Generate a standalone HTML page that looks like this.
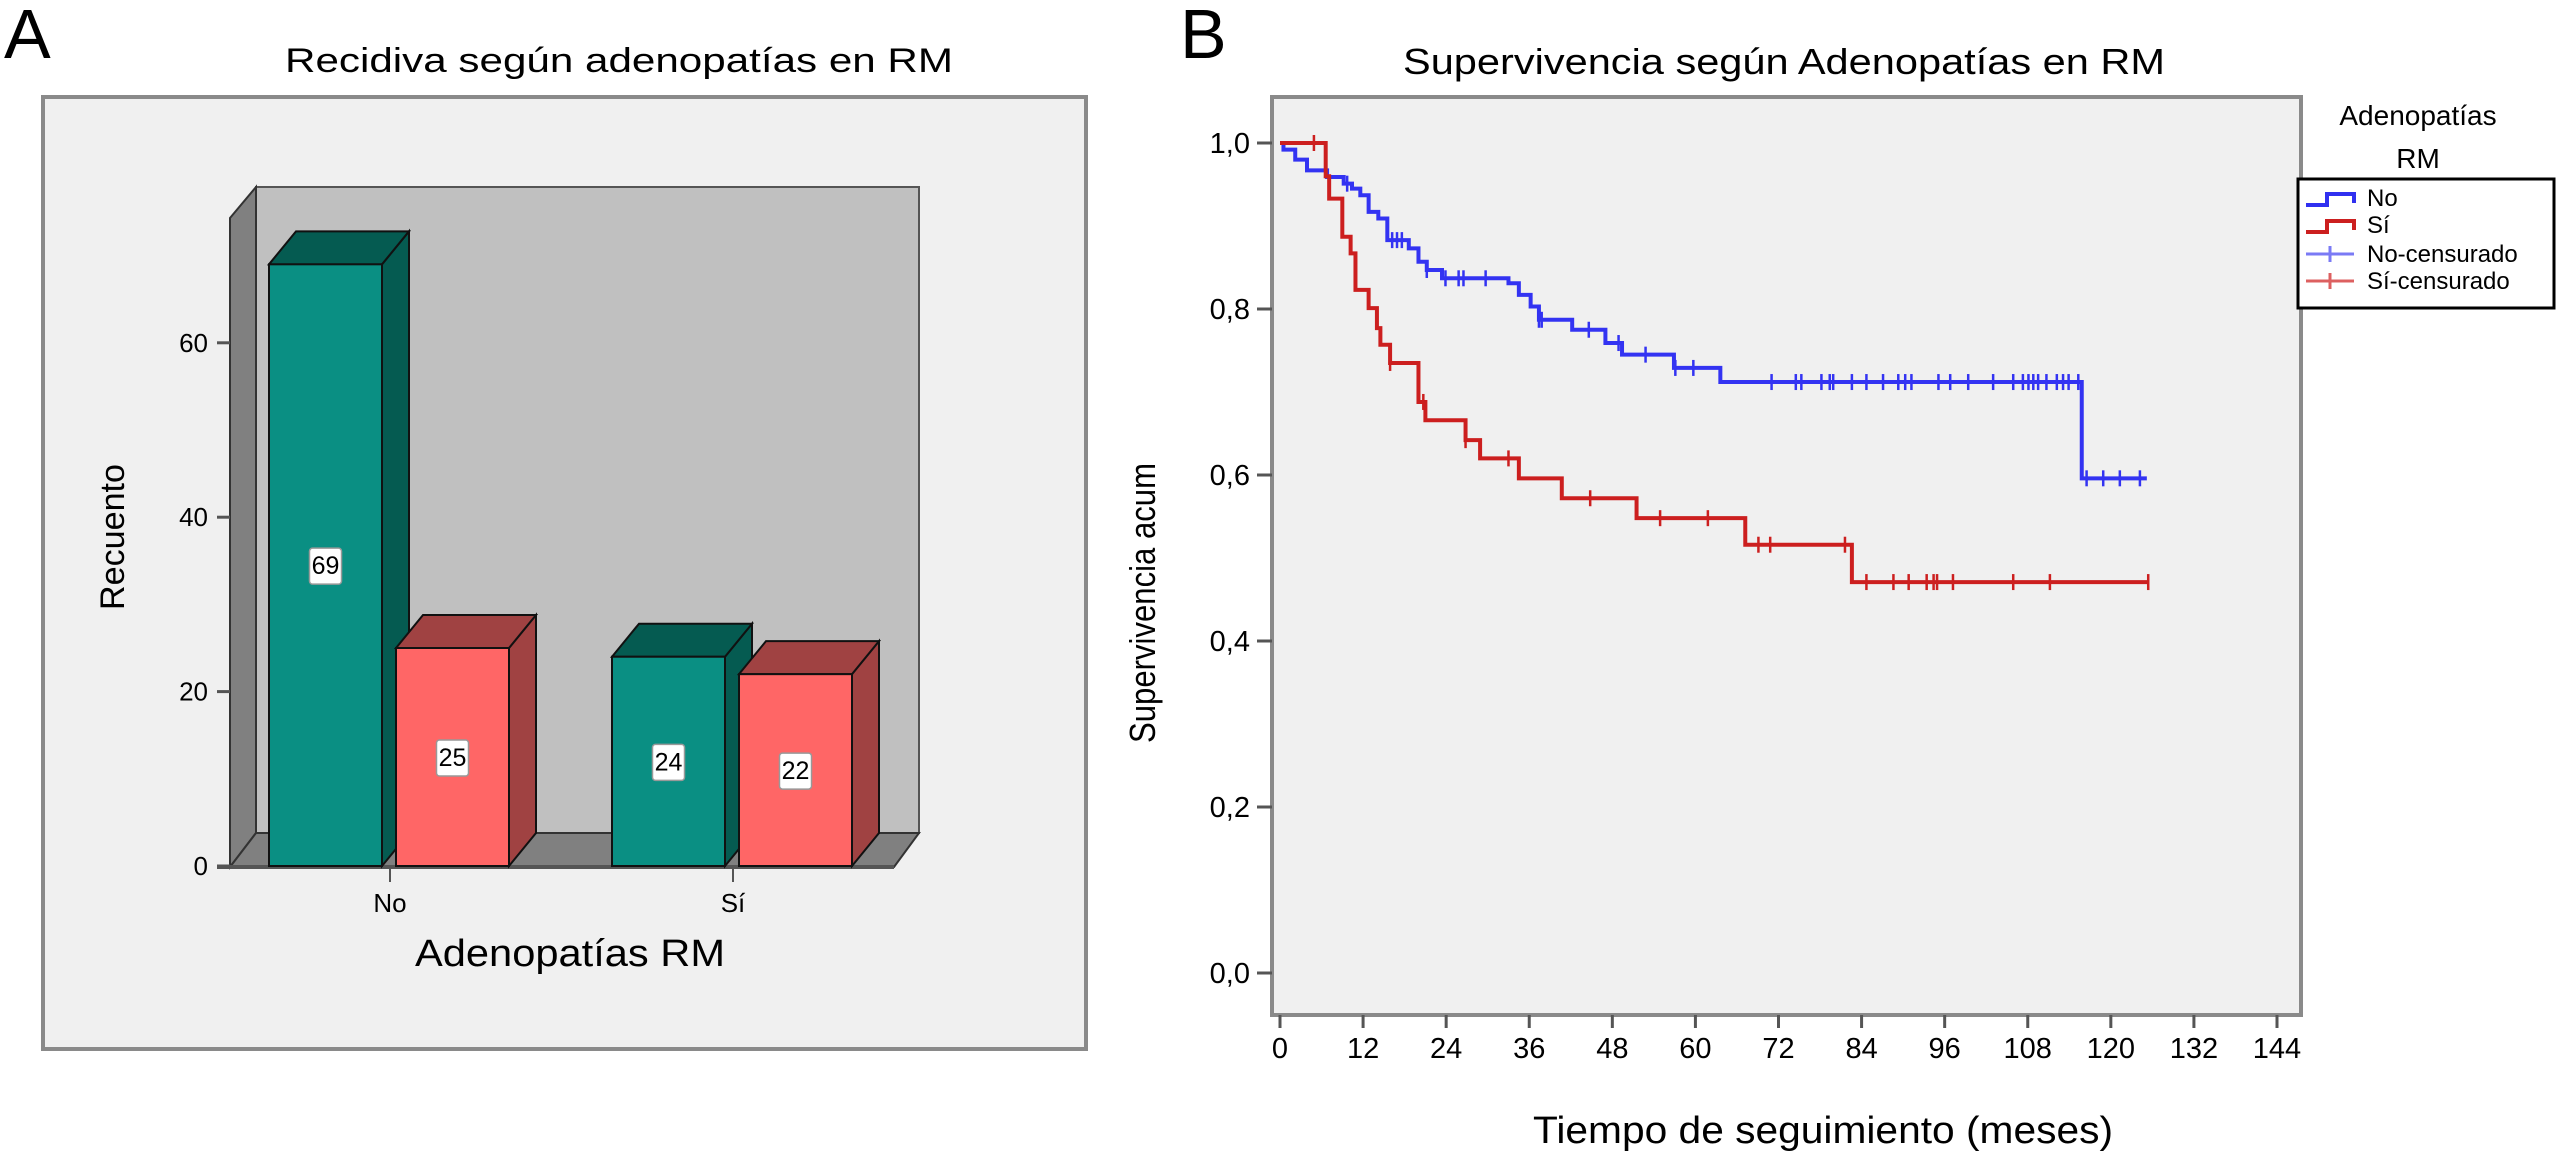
<!DOCTYPE html>
<html><head><meta charset="utf-8"><style>
html,body{margin:0;padding:0;background:#fff;}
svg{display:block;font-family:"Liberation Sans",sans-serif;}
</style></head><body>
<svg id="fig" width="2557" height="1153" viewBox="0 0 2557 1153" xmlns="http://www.w3.org/2000/svg">
<text x="4" y="58" font-size="70">A</text>
<text x="619" y="72" font-size="34" text-anchor="middle" textLength="668" lengthAdjust="spacingAndGlyphs">Recidiva según adenopatías en RM</text>
<rect x="43" y="97" width="1043" height="952" fill="#f0f0f0" stroke="#8a8a8a" stroke-width="4"/>
<g id="barA"></g>
<text x="1180" y="58" font-size="70">B</text>
<text x="1784" y="74" font-size="36" text-anchor="middle" textLength="762" lengthAdjust="spacingAndGlyphs">Supervivencia según Adenopatías en RM</text>
<rect x="1272" y="97" width="1029" height="918" fill="#f0f0f0" stroke="#8a8a8a" stroke-width="4"/>
<g id="kmB"></g>
<g>
<text x="2418" y="125" font-size="28" text-anchor="middle">Adenopatías</text>
<text x="2418" y="168" font-size="28" text-anchor="middle">RM</text>
<rect x="2298" y="179" width="256" height="129" fill="#fff" stroke="#000" stroke-width="3"/>
<path d="M2306,205 H2327 V194 H2354 V203" fill="none" stroke="#3030f0" stroke-width="4"/>
<text x="2367" y="206" font-size="24">No</text>
<path d="M2306,232 H2327 V221 H2354 V230" fill="none" stroke="#cc1f1f" stroke-width="4"/>
<text x="2367" y="233" font-size="24">Sí</text>
<path d="M2306,254 H2354 M2330,246 V262" fill="none" stroke="#7a7af5" stroke-width="3"/>
<text x="2367" y="262" font-size="24">No-censurado</text>
<path d="M2306,281 H2354 M2330,273 V289" fill="none" stroke="#dd6060" stroke-width="3"/>
<text x="2367" y="289" font-size="24">Sí-censurado</text>
</g>
</svg>
<script>
// ---- Panel A data ----
const barCategories = ['No', 'Sí'];
const seriesGreen = [69, 24];
const seriesRed = [25, 22];
const barTicks = [0, 20, 40, 60];

// ---- Panel B data ----
const noTimes = [0.5,2.2,3.9,6.8,9.2,10.4,11.6,12.8,14.2,15.5,18.6,20.0,21.2,23.4,33.0,34.5,36.2,37.4,42.2,47.0,49.4,56.9,63.6,115.8];
const noSurv = [0.992,0.980,0.967,0.959,0.951,0.945,0.937,0.917,0.909,0.883,0.873,0.857,0.847,0.837,0.831,0.817,0.803,0.787,0.775,0.759,0.745,0.729,0.712,0.596];
const noEnd = 125.2;
const noCensor = [9.7,16.2,16.9,17.6,21.2,23.9,25.8,26.5,29.7,37.4,37.8,44.6,48.9,52.8,57.1,59.7,71.0,74.5,75.3,78.2,79.4,79.9,82.6,84.7,87.1,89.3,90.3,91.2,95.1,96.8,99.4,103.0,105.9,107.3,108.1,108.8,109.5,110.7,112.2,113.1,113.9,115.3,116.5,118.9,121.3,124.2];
const siTimes = [6.6,7.1,9.0,10.2,10.9,12.8,14.0,14.5,15.9,20.0,21.0,26.8,28.9,34.5,40.7,51.5,67.2,82.6];
const siSurv = [0.960,0.933,0.887,0.867,0.823,0.801,0.777,0.757,0.735,0.688,0.666,0.642,0.620,0.596,0.572,0.548,0.516,0.471];
const siEnd = 125.4;
const siCensor = [4.9,15.9,20.7,26.8,33.0,44.8,54.9,61.8,69.1,70.8,81.6,84.7,88.6,90.8,93.4,94.4,94.9,97.2,105.9,111.2,125.4];
const xTicks = [0,12,24,36,48,60,72,84,96,108,120,132,144];
const yTicks = [0,0.2,0.4,0.6,0.8,1.0];

const NS = 'http://www.w3.org/2000/svg';
function mk(parent, tag, attrs, text) {
  const e = document.createElementNS(NS, tag);
  for (const k in attrs) e.setAttribute(k, attrs[k]);
  if (text !== undefined) e.textContent = text;
  parent.appendChild(e);
  return e;
}

// ---- Panel A ----
const gA = document.getElementById('barA');
function yA(v) { return 866 - 8.72 * v; }
function xA(i) { return 390 + i * 343; }
const DX = 27, DY = -33, BW = 113;

let el;
el = mk(gA, 'polygon', {points: '256,187 919,187 919,833 256,833', fill: '#c0c0c0', stroke: '#555', 'stroke-width': 2});


el = mk(gA, 'polygon', {points: '230,218 256,187 256,833 230,867', fill: '#808080', stroke: '#333', 'stroke-width': 2});


el = mk(gA, 'polygon', {points: '230,867 256,833 919,833 894,867', fill: '#808080', stroke: '#333', 'stroke-width': 2});


el = mk(gA, 'line', {x1: 217, y1: 867, x2: 894, y2: 867, stroke: '#555', 'stroke-width': 4});



barTicks.forEach(function (v) {
  const t = mk(gA, 'line', {x1: 217, y1: yA(v), x2: 230, y2: yA(v), stroke: '#555', 'stroke-width': 3});
  
  
  const l = mk(gA, 'text', {x: 208, y: yA(v) + 9, 'font-size': 26, 'text-anchor': 'end'}, String(v));
  
  
});

function bar3d(x, v, front, dark, name) {
  const top = yA(v), bot = yA(0);
  const g = mk(gA, 'g', {});
  
  
  mk(g, 'polygon', {points: [x+BW, bot, x+BW+DX, bot+DY, x+BW+DX, top+DY, x+BW, top].join(','), fill: dark, stroke: '#111', 'stroke-width': 2});
  mk(g, 'polygon', {points: [x, top, x+DX, top+DY, x+BW+DX, top+DY, x+BW, top].join(','), fill: dark, stroke: '#111', 'stroke-width': 2});
  mk(g, 'rect', {x: x, y: top, width: BW, height: bot - top, fill: front, stroke: '#111', 'stroke-width': 2});
  const cy = yA(v / 2);
  mk(g, 'rect', {x: x + BW/2 - 16, y: cy - 17, width: 32, height: 36, rx: 3, fill: '#fff', stroke: '#999', 'stroke-width': 1.5});
  mk(g, 'text', {x: x + BW/2, y: cy + 9, 'font-size': 25, 'text-anchor': 'middle'}, String(v));
}
barCategories.forEach(function (c, i) {
  const cx = xA(i);
  bar3d(cx - 121, seriesGreen[i], '#0a8f83', '#055b51', 'bar-green-' + (i === 0 ? 'no' : 'si'));
  bar3d(cx + 6, seriesRed[i], '#ff6666', '#a04242', 'bar-red-' + (i === 0 ? 'no' : 'si'));
  const t = mk(gA, 'line', {x1: cx, y1: 867, x2: cx, y2: 882, stroke: '#555', 'stroke-width': 2});
  
  
  const l = mk(gA, 'text', {x: cx, y: 912, 'font-size': 26, 'text-anchor': 'middle'}, c);
  
  
});
el = mk(gA, 'text', {x: 570, y: 966, 'font-size': 38, 'text-anchor': 'middle', textLength: 310, lengthAdjust: 'spacingAndGlyphs'}, 'Adenopatías RM');


el = mk(gA, 'text', {x: 0, y: 0, 'font-size': 34, 'text-anchor': 'middle', transform: 'translate(124,537) rotate(-90)', textLength: 146, lengthAdjust: 'spacingAndGlyphs'}, 'Recuento');



// ---- Panel B ----
const gB = document.getElementById('kmB');
function xB(t) { return 1280 + t * (997 / 144); }
function yB(s) { return 973 - s * 830; }

yTicks.forEach(function (v) {
  const t = mk(gB, 'line', {x1: 1257, y1: yB(v), x2: 1272, y2: yB(v), stroke: '#555', 'stroke-width': 3});
  
  
  const l = mk(gB, 'text', {x: 1250, y: yB(v) + 10, 'font-size': 29, 'text-anchor': 'end'}, v.toFixed(1).replace('.', ','));
  
  
});
xTicks.forEach(function (v) {
  const t = mk(gB, 'line', {x1: xB(v), y1: 1015, x2: xB(v), y2: 1028, stroke: '#555', 'stroke-width': 3});
  
  
  const l = mk(gB, 'text', {x: xB(v), y: 1058, 'font-size': 29, 'text-anchor': 'middle'}, String(v));
  
  
});
el = mk(gB, 'text', {x: 1823, y: 1143, 'font-size': 38, 'text-anchor': 'middle', textLength: 580, lengthAdjust: 'spacingAndGlyphs'}, 'Tiempo de seguimiento (meses)');


el = mk(gB, 'text', {x: 0, y: 0, 'font-size': 36, 'text-anchor': 'middle', transform: 'translate(1155,603) rotate(-90)', textLength: 280, lengthAdjust: 'spacingAndGlyphs'}, 'Supervivencia acum');



function survAt(times, surv, t) {
  let s = 1;
  for (let i = 0; i < times.length; i++) if (times[i] <= t) s = surv[i];
  return s;
}
function drawKM(times, surv, end, censor, color, name) {
  let d = 'M' + xB(0) + ',' + yB(1);
  for (let i = 0; i < times.length; i++) {
    d += ' H' + xB(times[i]) + ' V' + yB(surv[i]);
  }
  d += ' H' + xB(end);
  const p = mk(gB, 'path', {d: d, fill: 'none', stroke: color, 'stroke-width': 4});
  
  
  censor.forEach(function (t) {
    const y = yB(survAt(times, surv, t));
    const c = mk(gB, 'line', {x1: xB(t), y1: y - 8, x2: xB(t), y2: y + 8, stroke: color, 'stroke-width': 2.5});
    
    
  });
}
drawKM(noTimes, noSurv, noEnd, noCensor, '#3333f2', 'no');
drawKM(siTimes, siSurv, siEnd, siCensor, '#cc1f1f', 'si');
</script>
</body></html>
